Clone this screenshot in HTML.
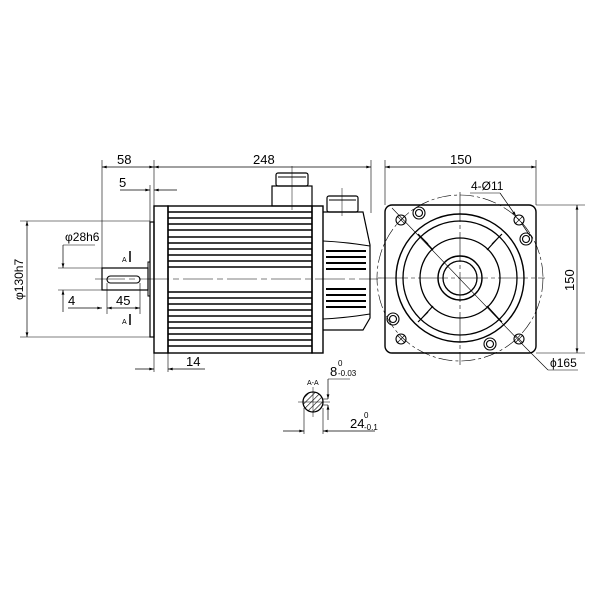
<!DOCTYPE html>
<html><head><meta charset="utf-8"><style>
html,body{margin:0;padding:0;background:#fff}
svg{display:block}
text{font-family:"Liberation Sans",sans-serif;fill:#000}
</style></head><body>
<svg width="600" height="600" viewBox="0 0 600 600" xmlns="http://www.w3.org/2000/svg">
<defs>
<marker id="a" viewBox="0 0 10 6" refX="10" refY="3" markerWidth="8" markerHeight="4" orient="auto-start-reverse"><path d="M0,0L10,3L0,6z" fill="#000"/></marker>
<pattern id="h" width="4" height="4" patternUnits="userSpaceOnUse" patternTransform="rotate(45)"><line x1="0" y1="0" x2="0" y2="4" stroke="#000" stroke-width="1.2"/></pattern>
</defs>
<g stroke="#000" fill="none" stroke-width="1">
<line x1="95" y1="279" x2="378" y2="279" stroke-width="0.6" stroke-dasharray="30,4,6,4"/>
<line x1="102" y1="160" x2="102" y2="270" stroke-width="0.6"/>
<line x1="154" y1="160" x2="154" y2="206" stroke-width="0.6"/>
<line x1="371" y1="160" x2="371" y2="213" stroke-width="0.6"/>
<line x1="102" y1="167" x2="154" y2="167" marker-start="url(#a)" marker-end="url(#a)" stroke-width="0.7"/>
<line x1="154" y1="167" x2="371" y2="167" marker-start="url(#a)" marker-end="url(#a)" stroke-width="0.7"/>
<line x1="150" y1="185" x2="150" y2="222" stroke-width="0.6"/>
<line x1="120" y1="190" x2="150" y2="190" marker-end="url(#a)" stroke-width="0.7"/>
<line x1="154" y1="190" x2="177" y2="190" marker-start="url(#a)" stroke-width="0.7"/>
<rect x="150" y="222" width="4" height="115" stroke-width="1.2"/>
<rect x="154" y="206" width="14" height="147" stroke-width="1.4"/>
<rect x="168" y="206" width="144" height="147" stroke-width="1.4"/>
<rect x="312" y="206" width="11" height="147" stroke-width="1.4"/>
<g stroke-width="1.6">
<line x1="168" y1="212" x2="312" y2="212"/><line x1="168" y1="218" x2="312" y2="218"/>
<line x1="168" y1="224" x2="312" y2="224"/><line x1="168" y1="230" x2="312" y2="230"/>
<line x1="168" y1="237" x2="312" y2="237"/><line x1="168" y1="243" x2="312" y2="243"/>
<line x1="168" y1="249" x2="312" y2="249"/><line x1="168" y1="255" x2="312" y2="255"/>
<line x1="168" y1="261" x2="312" y2="261"/><line x1="168" y1="267" x2="312" y2="267"/>
<line x1="168" y1="292" x2="312" y2="292"/><line x1="168" y1="298" x2="312" y2="298"/>
<line x1="168" y1="304" x2="312" y2="304"/><line x1="168" y1="310" x2="312" y2="310"/>
<line x1="168" y1="316" x2="312" y2="316"/><line x1="168" y1="322" x2="312" y2="322"/>
<line x1="168" y1="328" x2="312" y2="328"/><line x1="168" y1="334" x2="312" y2="334"/>
<line x1="168" y1="340" x2="312" y2="340"/><line x1="168" y1="346" x2="312" y2="346"/>
</g>
<rect x="272" y="186" width="40" height="20" stroke-width="1.2"/>
<rect x="276" y="173" width="32" height="13" rx="2" stroke-width="1.2"/>
<line x1="278" y1="177" x2="306" y2="177"/>
<line x1="292" y1="166" x2="292" y2="210" stroke-width="0.5"/>
<path d="M323,212 L363,212 L370,245 L370,318 L363,330 L323,330" stroke-width="1.2"/>
<path d="M323,241 Q345,242 370,246" stroke-width="1"/>
<path d="M323,319 Q345,318 370,314" stroke-width="1"/>
<rect x="327" y="196" width="31" height="16" rx="2" stroke-width="1.2"/>
<line x1="329" y1="200" x2="356" y2="200"/>
<line x1="342" y1="188" x2="342" y2="216" stroke-width="0.5"/>
<g stroke-width="2">
<line x1="326" y1="251" x2="366" y2="251"/><line x1="326" y1="257" x2="366" y2="257"/>
<line x1="326" y1="263" x2="366" y2="263"/><line x1="326" y1="269" x2="366" y2="269"/>
<line x1="326" y1="289" x2="366" y2="289"/><line x1="326" y1="295" x2="366" y2="295"/>
<line x1="326" y1="301" x2="366" y2="301"/><line x1="326" y1="307" x2="366" y2="307"/>
</g>
<rect x="102" y="268" width="46" height="22" stroke-width="1.2"/>
<rect x="148" y="262" width="2" height="34" stroke-width="1"/>
<rect x="107" y="276" width="33" height="7" rx="3.5" stroke-width="1.1"/>
<line x1="20" y1="221" x2="150" y2="221" stroke-width="0.6"/>
<line x1="20" y1="337" x2="150" y2="337" stroke-width="0.6"/>
<line x1="27" y1="221" x2="27" y2="337" marker-start="url(#a)" marker-end="url(#a)" stroke-width="0.7"/>
<line x1="58" y1="268" x2="102" y2="268" stroke-width="0.6"/>
<line x1="58" y1="290" x2="102" y2="290" stroke-width="0.6"/>
<line x1="63" y1="245" x2="63" y2="268" marker-end="url(#a)" stroke-width="0.7"/>
<line x1="63" y1="290" x2="63" y2="312" marker-start="url(#a)" stroke-width="0.7"/>
<line x1="63" y1="245" x2="95" y2="245" stroke-width="0.6"/>
<line x1="107" y1="283" x2="107" y2="314" stroke-width="0.6"/>
<line x1="140" y1="283" x2="140" y2="314" stroke-width="0.6"/>
<line x1="68" y1="308" x2="102" y2="308" marker-end="url(#a)" stroke-width="0.7"/>
<line x1="107" y1="308" x2="140" y2="308" marker-start="url(#a)" marker-end="url(#a)" stroke-width="0.7"/>
<line x1="130" y1="251" x2="130" y2="262" stroke-width="1.5"/>
<line x1="130" y1="314" x2="130" y2="325" stroke-width="1.5"/>
<line x1="154" y1="353" x2="154" y2="372" stroke-width="0.6"/>
<line x1="168" y1="353" x2="168" y2="372" stroke-width="0.6"/>
<line x1="135" y1="369" x2="154" y2="369" marker-end="url(#a)" stroke-width="0.7"/>
<line x1="168" y1="369" x2="205" y2="369" marker-start="url(#a)" stroke-width="0.7"/>
<circle cx="313" cy="402" r="10" fill="url(#h)" stroke-width="1.3"/>
<line x1="298" y1="402" x2="330" y2="402" stroke-width="0.5"/>
<line x1="313" y1="387" x2="313" y2="417" stroke-width="0.5"/>
<line x1="323" y1="399" x2="328" y2="399" stroke-width="0.6"/>
<line x1="323" y1="405" x2="328" y2="405" stroke-width="0.6"/>
<line x1="328" y1="379" x2="328" y2="399" marker-end="url(#a)" stroke-width="0.7"/>
<line x1="328" y1="405" x2="328" y2="420" marker-start="url(#a)" stroke-width="0.7"/>
<line x1="328" y1="379" x2="350" y2="379" stroke-width="0.6"/>
<line x1="304" y1="408" x2="304" y2="434" stroke-width="0.6"/>
<line x1="323" y1="408" x2="323" y2="434" stroke-width="0.6"/>
<line x1="283" y1="431" x2="304" y2="431" marker-end="url(#a)" stroke-width="0.7"/>
<line x1="323" y1="431" x2="375" y2="431" marker-start="url(#a)" stroke-width="0.7"/>
<line x1="385" y1="160" x2="385" y2="205" stroke-width="0.6"/>
<line x1="536" y1="160" x2="536" y2="205" stroke-width="0.6"/>
<line x1="385" y1="167" x2="536" y2="167" marker-start="url(#a)" marker-end="url(#a)" stroke-width="0.7"/>
<line x1="536" y1="205" x2="585" y2="205" stroke-width="0.6"/>
<line x1="536" y1="353" x2="585" y2="353" stroke-width="0.6"/>
<line x1="577" y1="205" x2="577" y2="353" marker-start="url(#a)" marker-end="url(#a)" stroke-width="0.7"/>
<rect x="385" y="205" width="151" height="148" rx="7" stroke-width="1.4"/>
<circle cx="460" cy="278" r="83" stroke-width="0.6" stroke-dasharray="14,3,3,3"/>
<circle cx="460" cy="278" r="64" stroke-width="1.4"/>
<circle cx="460" cy="278" r="57" stroke-width="1.3"/>
<circle cx="460" cy="278" r="40" stroke-width="1.3"/>
<circle cx="460" cy="278" r="22" stroke-width="1.4"/>
<circle cx="460" cy="278" r="17" stroke-width="1.3"/>
<g stroke-width="1.2">
<path d="M428,244 L418,234 M433,250 L422,238"/>
<path d="M492,244 L502,234 M487,250 L498,238"/>
<path d="M428,312 L418,322 M433,306 L422,318"/>
<path d="M492,312 L502,322 M487,306 L498,318"/>
</g>
<line x1="378" y1="278" x2="545" y2="278" stroke-width="0.6" stroke-dasharray="30,3,4,3"/>
<line x1="460" y1="192" x2="460" y2="365" stroke-width="0.6" stroke-dasharray="30,3,4,3"/>
<line x1="392" y1="208" x2="525" y2="347" stroke-width="0.6"/>
<line x1="525" y1="347" x2="548" y2="370" stroke-width="0.6"/>
<line x1="548" y1="370" x2="578" y2="370" stroke-width="0.6"/>
<g stroke-width="1.1">
<circle cx="401" cy="220" r="5"/><circle cx="519" cy="220" r="5"/>
<circle cx="401" cy="339" r="5"/><circle cx="519" cy="339" r="5"/>
<path d="M397,216l8,8M405,216l-8,8M515,216l8,8M523,216l-8,8M397,335l8,8M405,335l-8,8M515,335l8,8M523,335l-8,8" stroke-width="0.6"/>
<circle cx="419" cy="213" r="6"/><circle cx="419" cy="213" r="3.5"/>
<circle cx="526" cy="239" r="6"/><circle cx="526" cy="239" r="3.5"/>
<circle cx="393" cy="319" r="6"/><circle cx="393" cy="319" r="3.5"/>
<circle cx="490" cy="344" r="6"/><circle cx="490" cy="344" r="3.5"/>
</g>
<line x1="470" y1="193" x2="500" y2="193" stroke-width="0.6"/>
<line x1="500" y1="193" x2="516" y2="216" marker-end="url(#a)" stroke-width="0.7"/>
<line x1="522" y1="224" x2="530" y2="236" stroke-width="0.7"/>
</g>
<text x="117" y="164" font-size="13">58</text>
<text x="253" y="164" font-size="13">248</text>
<text x="119" y="187" font-size="13">5</text>
<text x="65" y="241" font-size="12">φ28h6</text>
<text x="68" y="305" font-size="13">4</text>
<text x="116" y="305" font-size="13">45</text>
<text x="122" y="262" font-size="7">A</text>
<text x="122" y="324" font-size="7">A</text>
<text x="186" y="366" font-size="13">14</text>
<text font-size="12" transform="translate(23,300) rotate(-90)">φ130h7</text>
<text x="307" y="385" font-size="7">A-A</text>
<text x="330" y="376" font-size="13">8</text><text x="338" y="366" font-size="8">0</text><text x="338" y="376" font-size="8">-0.03</text>
<text x="350" y="428" font-size="13">24</text><text x="364" y="418" font-size="8">0</text><text x="364" y="430" font-size="8">-0.1</text>
<text x="450" y="164" font-size="13">150</text>
<text x="471" y="190" font-size="12">4-Ø11</text>
<text font-size="13" transform="translate(574,291) rotate(-90)">150</text>
<text x="550" y="367" font-size="12">ϕ165</text>
</svg>
</body></html>
